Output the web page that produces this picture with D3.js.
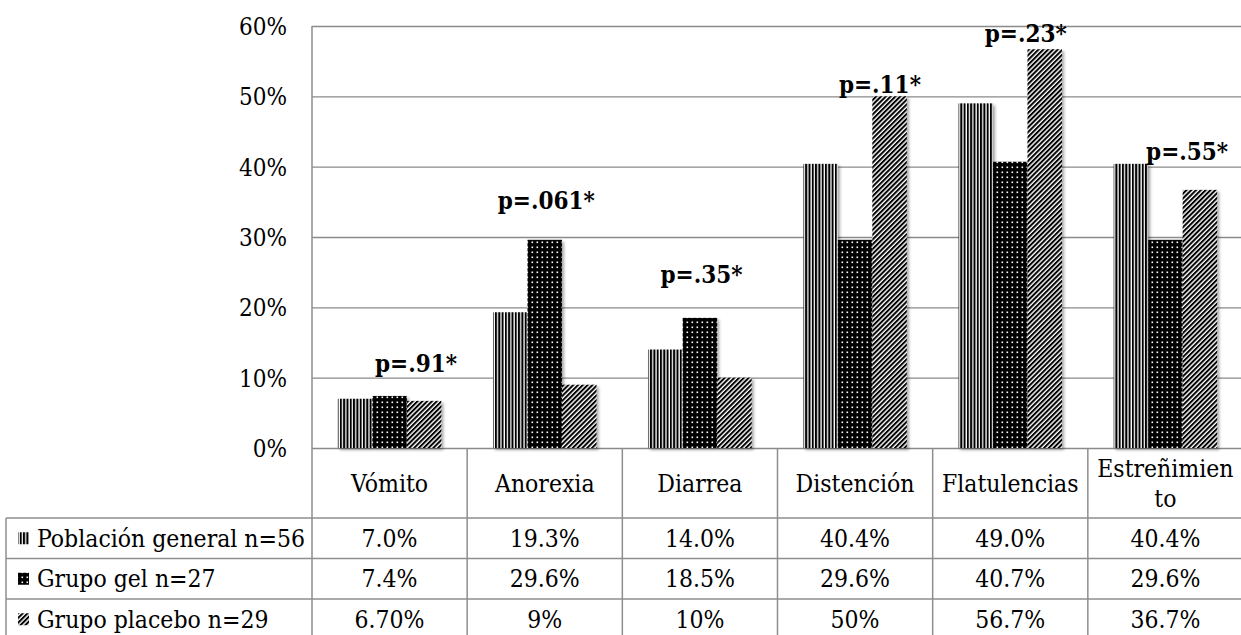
<!DOCTYPE html>
<html lang="es">
<head>
<meta charset="utf-8">
<title>Síntomas gastrointestinales</title>
<script src="https://cdn.jsdelivr.net/npm/d3@7"></script>
<style>
  body { margin: 0; background: #fff; }
  svg text { font-family: "DejaVu Serif Condensed", "DejaVu Serif", serif; font-stretch: condensed; fill: #000; }
  .grid line { stroke: #8a8a8a; stroke-width: 1.3; }
  .grid text { font-size: 24px; }
  .table-line { stroke: #8e8e8e; stroke-width: 1.5; fill: none; }
  .cell { font-size: 24.5px; }
  .plabel { font-size: 24px; font-weight: bold; }
</style>
</head>
<body>
<script>
// categories and series
var categories = ["Vómito", "Anorexia", "Diarrea", "Distención", "Flatulencias", "Estreñimiento"];
var seriesNames = ["Población general n=56", "Grupo gel n=27", "Grupo placebo n=29"];

var generalValues = [7.0, 19.3, 14.0, 40.4, 49.0, 40.4];
var gelValues     = [7.4, 29.6, 18.5, 29.6, 40.7, 29.6];
var placeboValues = [6.7, 9, 10, 50, 56.7, 36.7];

// labels as printed in the data table
var generalLabels = ["7.0%", "19.3%", "14.0%", "40.4%", "49.0%", "40.4%"];
var gelLabels     = ["7.4%", "29.6%", "18.5%", "29.6%", "40.7%", "29.6%"];
var placeboLabels = ["6.70%", "9%", "10%", "50%", "56.7%", "36.7%"];

// p values written over each group, and the level (in %) where they sit
var pLabels = ["p=.91*", "p=.061*", "p=.35*", "p=.11*", "p=.23*", "p=.55*"];
var pLevels = [10.8, 34.0, 23.5, 50.5, 57.7, 41.0];

var yTicks = [0, 10, 20, 30, 40, 50, 60];

var W = 1241, H = 635;
var plotLeft = 312, plotRight = 1243, plotTop = 26, zero = 448;
var rowTop = 518, rowH = 40.5, legendLeft = 6;

var series = [
  {name: seriesNames[0], values: generalValues, labels: generalLabels, fill: "url(#pat-vert)"},
  {name: seriesNames[1], values: gelValues, labels: gelLabels, fill: "url(#pat-dots)"},
  {name: seriesNames[2], values: placeboValues, labels: placeboLabels, fill: "url(#pat-diag)"}
];

var svg = d3.select("body").append("svg")
  .attr("width", W).attr("height", H);

var defs = svg.append("defs");

// vertical stripes
var p1 = defs.append("pattern").attr("id", "pat-vert")
  .attr("patternUnits", "userSpaceOnUse").attr("width", 3.3).attr("height", 8);
p1.append("rect").attr("width", 3.3).attr("height", 8).attr("fill", "#fff");
p1.append("rect").attr("width", 2).attr("height", 8).attr("fill", "#000");

// black with white dots
var p2 = defs.append("pattern").attr("id", "pat-dots")
  .attr("patternUnits", "userSpaceOnUse").attr("width", 5).attr("height", 5);
p2.append("rect").attr("width", 5).attr("height", 5).attr("fill", "#000");
p2.append("rect").attr("x", 1.5).attr("y", 1.5).attr("width", 1.6).attr("height", 1.6).attr("fill", "#fff");

// upward diagonal
var p3 = defs.append("pattern").attr("id", "pat-diag")
  .attr("patternUnits", "userSpaceOnUse").attr("width", 3.4).attr("height", 8)
  .attr("patternTransform", "rotate(45)");
p3.append("rect").attr("width", 3.4).attr("height", 8).attr("fill", "#fff");
p3.append("rect").attr("width", 2).attr("height", 8).attr("fill", "#000");

var shadow = defs.append("filter").attr("id", "shadow")
  .attr("x", "-20%").attr("y", "-20%").attr("width", "150%").attr("height", "150%");
shadow.append("feDropShadow").attr("dx", 2).attr("dy", 2).attr("stdDeviation", 1.6)
  .attr("flood-color", "#000").attr("flood-opacity", 0.35);

//Scales
var x = d3.scaleBand().domain(categories).range([plotLeft, plotRight]);
var xInner = d3.scaleBand().domain(d3.range(series.length))
  .range([0, x.bandwidth()]).paddingInner(0).paddingOuter(0.75);
var y = d3.scaleLinear().domain([0, 60]).range([zero, plotTop]);

//Gridlines + tick labels
var yAxis = d3.axisLeft(y)
  .tickValues(yTicks)
  .tickFormat(function(d) { return d + "%"; })
  .tickSize(-(W - plotLeft))
  .tickPadding(25);

svg.append("g").attr("class", "grid")
  .attr("transform", "translate(" + plotLeft + ",0)")
  .call(yAxis)
  .call(function(g) { g.select(".domain").remove(); })
  .call(function(g) { g.selectAll("text").attr("fill", "#000").attr("dy", "0.35em"); });

//Bars
var groups = svg.append("g").selectAll("g")
  .data(series).enter().append("g")
  .attr("filter", "url(#shadow)");

groups.selectAll("rect")
  .data(function(s, i) {
    return s.values.map(function(v, j) { return {cat: categories[j], v: v, i: i, fill: s.fill}; });
  })
  .enter().append("rect")
  .attr("x", function(d) { return x(d.cat) + xInner(d.i); })
  .attr("y", function(d) { return y(d.v); })
  .attr("width", xInner.bandwidth())
  .attr("height", function(d) { return zero - y(d.v); })
  .attr("fill", function(d) { return d.fill; });

//p value labels (hand placed in the original)
var labelShift = [0.17, 0.01, 0.01, 0.16, 0.10, 0.14];
svg.append("g").selectAll("text")
  .data(pLabels).enter().append("text")
  .attr("class", "plabel")
  .attr("text-anchor", "middle")
  .attr("x", function(d, i) { return x(categories[i]) + x.bandwidth() * (0.5 + labelShift[i]); })
  .attr("y", function(d, i) { return y(pLevels[i]); })
  .text(function(d) { return d; });

//Data table
var tbl = svg.append("g");
var bottom = rowTop + rowH * series.length;

// vertical lines
tbl.append("line").attr("class", "table-line")
  .attr("x1", plotLeft).attr("x2", plotLeft).attr("y1", plotTop).attr("y2", bottom);
tbl.selectAll("line.div")
  .data(categories.slice(1)).enter().append("line")
  .attr("class", "table-line div")
  .attr("x1", function(d) { return x(d); }).attr("x2", function(d) { return x(d); })
  .attr("y1", zero).attr("y2", bottom);
tbl.append("line").attr("class", "table-line")
  .attr("x1", legendLeft).attr("x2", legendLeft).attr("y1", rowTop).attr("y2", bottom);

// horizontal lines
tbl.selectAll("line.row")
  .data(d3.range(series.length + 1)).enter().append("line")
  .attr("class", "table-line row")
  .attr("x1", legendLeft).attr("x2", W)
  .attr("y1", function(d) { return rowTop + d * rowH; })
  .attr("y2", function(d) { return rowTop + d * rowH; });

// category headers, wrapped by character like the original
function wrapChars(text, maxW, probe) {
  var lines = [], cur = "";
  probe.text(text);
  if (probe.node().getComputedTextLength() <= maxW) return [text];
  for (var k = 0; k < text.length; k++) {
    probe.text(cur + text[k]);
    if (probe.node().getComputedTextLength() > maxW && cur) { lines.push(cur); cur = text[k]; }
    else cur += text[k];
  }
  lines.push(cur);
  return lines;
}
var probe = svg.append("text").attr("class", "cell").attr("opacity", 0);
var lineH = 30;
categories.forEach(function(c) {
  var lines = wrapChars(c, x.bandwidth() - 16, probe);
  var cy = (zero + rowTop) / 2;
  var t = tbl.append("text").attr("class", "cell").attr("text-anchor", "middle");
  lines.forEach(function(l, k) {
    t.append("tspan")
      .attr("x", x(c) + x.bandwidth() / 2)
      .attr("y", cy + (k - (lines.length - 1) / 2) * lineH)
      .attr("dy", "0.35em")
      .text(l);
  });
});
probe.remove();

// values
series.forEach(function(s, i) {
  var cy = rowTop + rowH * i + rowH / 2;
  tbl.selectAll(null).data(s.labels).enter().append("text")
    .attr("class", "cell").attr("text-anchor", "middle")
    .attr("x", function(d, j) { return x(categories[j]) + x.bandwidth() / 2; })
    .attr("y", cy).attr("dy", "0.35em")
    .text(function(d) { return d; });

  // legend key + name
  tbl.append("rect")
    .attr("x", 18).attr("y", cy - 6).attr("width", 11).attr("height", 12)
    .attr("fill", s.fill);
  tbl.append("text").attr("class", "cell")
    .attr("x", 37).attr("y", cy).attr("dy", "0.35em")
    .text(s.name);
});
</script>
</body>
</html>
